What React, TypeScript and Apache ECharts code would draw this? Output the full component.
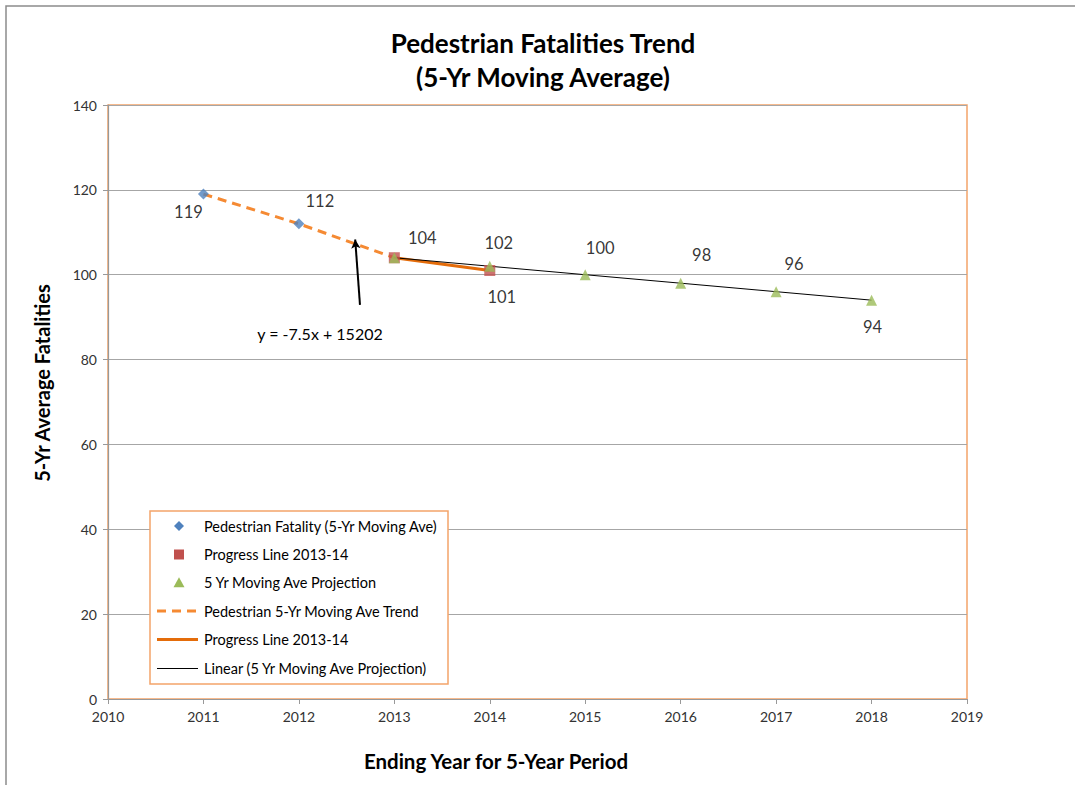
import React, { useEffect, useRef } from "react";
import * as echarts from "echarts";

const titleLines = ["Pedestrian Fatalities Trend", "(5-Yr Moving Average)"];
const xAxisTitle = "Ending Year for 5-Year Period";
const yAxisTitle = "5-Yr Average Fatalities";
const trendEquation = "y = -7.5x + 15202";

// Data
const fatalityYears = [2011, 2012];
const fatalityValues = [119, 112];
const progressYears = [2013, 2014];
const progressValues = [104, 101];
const projectionYears = [2013, 2014, 2015, 2016, 2017, 2018];
const projectionValues = [104, 102, 100, 98, 96, 94];
const trendYears = [2011, 2012, 2013];
const trendValues = [119, 112, 104];
const linearYears = [2013, 2018];
const linearValues = [104, 94];
const arrowFrom = [2012.64, 92.9];
const arrowTo = [2012.59, 108.3];

const legendNames = [
  "Pedestrian Fatality (5-Yr Moving Ave)",
  "Progress Line 2013-14",
  "5 Yr Moving Ave Projection",
  "Pedestrian 5-Yr Moving Ave Trend",
  "Progress Line 2013-14",
  "Linear (5 Yr Moving Ave Projection)",
];

// label styling (offsets from marker centre, in px)
const fatalityLabelOffsets = [[-15, 18], [21, -23]];
const progressLabelShow = [false, true];
const progressLabelOffsets = [[0, 0], [12, 27]];
const projectionLabelOffsets = [[28, -20], [9, -23], [15, -27], [21, -28], [18, -28], [1, 27]];

const FONT = "Lato, 'Open Sans', sans-serif";
const C_BLUE = "#4f81bd";
const C_RED = "#c0504d";
const C_GREEN = "#9bbb59";
const C_ORANGE = "#f58a33";
const C_ORANGE2 = "#e46c0a";
const C_BORDER = "#f4a46a";

export default function App() {
  const ref = useRef<HTMLDivElement>(null);
  useEffect(() => {
    if (!ref.current) return;
    const chart = echarts.init(ref.current, null, { renderer: "svg" });
    const lbl = (off: number[], show = true) => ({
      show,
      position: "inside",
      offset: off,
      align: "center",
      verticalAlign: "middle",
      fontSize: 16.5,
      color: "#000",
      fontFamily: FONT,
      formatter: (p: any) => String(p.value[1]),
    });

    // legend drawn with graphic elements
    const lgLeft = 150, lgTop = 511, lgW = 298, lgH = 173;
    const rowY = [526, 554.5, 582.7, 611, 639.5, 668.5];
    const symX = 179, lineX1 = 157, lineX2 = 198, textX = 204;
    const legendGraphics: any[] = [
      { type: "rect", shape: { x: lgLeft, y: lgTop, width: lgW, height: lgH }, style: { fill: "#fff", stroke: C_BORDER, lineWidth: 1.5 }, z: 10 },
      { type: "polygon", shape: { points: [[symX, rowY[0] - 5], [symX + 5, rowY[0]], [symX, rowY[0] + 5], [symX - 5, rowY[0]]] }, style: { fill: C_BLUE }, z: 11 },
      { type: "rect", shape: { x: symX - 5, y: rowY[1] - 5, width: 10, height: 10 }, style: { fill: C_RED }, z: 11 },
      { type: "polygon", shape: { points: [[symX, rowY[2] - 5.5], [symX + 5.5, rowY[2] + 4.5], [symX - 5.5, rowY[2] + 4.5]] }, style: { fill: C_GREEN }, z: 11 },
      { type: "line", shape: { x1: lineX1, y1: rowY[3], x2: lineX2, y2: rowY[3] }, style: { stroke: C_ORANGE, lineWidth: 3, lineDash: [9, 6] }, z: 11 },
      { type: "line", shape: { x1: lineX1, y1: rowY[4], x2: lineX2, y2: rowY[4] }, style: { stroke: C_ORANGE2, lineWidth: 3 }, z: 11 },
      { type: "line", shape: { x1: lineX1, y1: rowY[5], x2: lineX2, y2: rowY[5] }, style: { stroke: "#000", lineWidth: 1 }, z: 11 },
      ...legendNames.map((n, i) => ({
        type: "text",
        x: textX,
        y: rowY[i],
        z: 11,
        style: { text: n, fontSize: 14.5, fontFamily: FONT, fill: "#000", textAlign: "left", textVerticalAlign: "middle" },
      })),
    ];

    const option: any = {
      animation: false,
      backgroundColor: "#fff",
      textStyle: { fontFamily: FONT },
      grid: { left: 108, right: 108, top: 105, bottom: 86, show: true, borderColor: C_BORDER, borderWidth: 1.5, backgroundColor: "transparent" },
      xAxis: {
        type: "value",
        min: 2010,
        max: 2019,
        interval: 1,
        axisLine: { show: true, lineStyle: { color: "#999", width: 1.2 } },
        axisTick: { show: true, length: 5, lineStyle: { color: "#999" } },
        axisLabel: { margin: 10, fontSize: 14, color: "#333", fontFamily: FONT, formatter: (v: number) => String(v) },
        splitLine: { show: false },
      },
      yAxis: {
        type: "value",
        min: 0,
        max: 140,
        interval: 20,
        axisLine: { show: true, lineStyle: { color: "#999", width: 1.2 } },
        axisTick: { show: true, length: 5, lineStyle: { color: "#999" } },
        axisLabel: { margin: 11, fontSize: 14, color: "#333", fontFamily: FONT },
        splitLine: { show: true, lineStyle: { color: "#a6a6a6", width: 1 } },
      },
      series: [
        {
          name: legendNames[3],
          type: "line",
          symbol: "none",
          z: 2,
          lineStyle: { color: C_ORANGE, width: 3, type: [9, 6] },
          itemStyle: { color: C_ORANGE },
          data: trendYears.map((y, i) => [y, trendValues[i]]),
        },
        {
          name: legendNames[4],
          type: "line",
          symbol: "none",
          z: 2,
          lineStyle: { color: C_ORANGE2, width: 3 },
          itemStyle: { color: C_ORANGE2 },
          data: progressYears.map((y, i) => [y, progressValues[i]]),
        },
        {
          name: legendNames[5],
          type: "line",
          symbol: "none",
          z: 3,
          lineStyle: { color: "#000", width: 1 },
          itemStyle: { color: "#000" },
          data: linearYears.map((y, i) => [y, linearValues[i]]),
          markLine: {
            silent: true,
            symbol: ["none", "arrow"],
            symbolSize: [7, 9],
            label: { show: false },
            lineStyle: { color: "#000", width: 2, type: "solid" },
            data: [[{ coord: arrowFrom }, { coord: arrowTo }]],
          },
        },
        {
          name: legendNames[0],
          type: "scatter",
          symbol: "diamond",
          symbolSize: 11,
          z: 5,
          itemStyle: { color: C_BLUE },
          data: fatalityYears.map((y, i) => ({ value: [y, fatalityValues[i]], label: lbl(fatalityLabelOffsets[i]) })),
        },
        {
          name: legendNames[1],
          type: "scatter",
          symbol: "rect",
          symbolSize: 11,
          z: 5,
          itemStyle: { color: C_RED },
          data: progressYears.map((y, i) => ({ value: [y, progressValues[i]], label: lbl(progressLabelOffsets[i], progressLabelShow[i]) })),
        },
        {
          name: legendNames[2],
          type: "scatter",
          symbol: "triangle",
          symbolSize: 11,
          z: 6,
          itemStyle: { color: C_GREEN },
          data: projectionYears.map((y, i) => ({ value: [y, projectionValues[i]], label: lbl(projectionLabelOffsets[i]) })),
        },
      ],
      graphic: [
        { type: "rect", shape: { x: 6, y: 6, width: 1100, height: 800 }, style: { fill: "none", stroke: "#8c8c8c", lineWidth: 1.5 }, silent: true, z: -10 },
        { type: "text", x: 543, y: 43, style: { text: titleLines[0], fontSize: 26, fontWeight: "bold", fontFamily: FONT, fill: "#000", textAlign: "center", textVerticalAlign: "middle" } },
        { type: "text", x: 543, y: 77, style: { text: titleLines[1], fontSize: 26, fontWeight: "bold", fontFamily: FONT, fill: "#000", textAlign: "center", textVerticalAlign: "middle" } },
        { type: "text", x: 496, y: 761, style: { text: xAxisTitle, fontSize: 20.5, fontWeight: "bold", fontFamily: FONT, fill: "#000", textAlign: "center", textVerticalAlign: "middle" } },
        { type: "text", x: 42, y: 383, rotation: Math.PI / 2, style: { text: yAxisTitle, fontSize: 20, fontWeight: "bold", fontFamily: FONT, fill: "#000", textAlign: "center", textVerticalAlign: "middle" } },
        { type: "text", x: 320, y: 333, style: { text: trendEquation, fontSize: 16, fontFamily: FONT, fill: "#000", textAlign: "center", textVerticalAlign: "middle" } },
        ...legendGraphics,
      ],
    };
    chart.setOption(option);
    return () => chart.dispose();
  }, []);
  return <div ref={ref} style={{ position: "fixed", left: 0, top: 0, width: 1075, height: 785 }} />;
}
